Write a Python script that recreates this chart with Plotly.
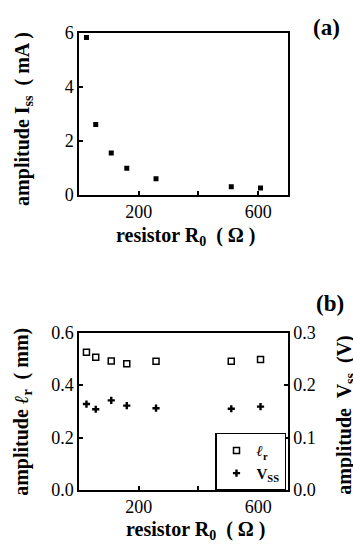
import plotly.graph_objects as go

# Load resistor values (ohm) and measured amplitudes
R0 = [25, 56, 108, 160, 258, 510, 608]
I_ss = [5.84, 2.61, 1.56, 0.99, 0.60, 0.31, 0.26]      # mA
l_r = [0.526, 0.507, 0.492, 0.482, 0.491, 0.491, 0.498]  # mm
V_ss = [0.164, 0.154, 0.171, 0.161, 0.156, 0.155, 0.159]  # V

x_ticks = [200, 400, 600]
x_ticktext = ["200", "", "600"]

W, H = 353, 550
SERIF = "Liberation Serif, Times New Roman, serif"


def px(x):
    return x / W


def py(y):
    return 1 - y / H


fig = go.Figure()

fig.add_trace(go.Scatter(
    x=R0, y=I_ss, mode="markers", xaxis="x", yaxis="y",
    marker=dict(symbol="square", size=5, color="black"),
    showlegend=False,
))
fig.add_trace(go.Scatter(
    x=R0, y=l_r, mode="markers", xaxis="x2", yaxis="y2",
    name="<i>ℓ</i><sub>r</sub>",
    marker=dict(symbol="square-open", size=6, color="black",
                line=dict(width=1.5, color="black")),
))
fig.add_trace(go.Scatter(
    x=R0, y=V_ss, mode="markers", xaxis="x2", yaxis="y3",
    name="V<sub>SS</sub>",
    marker=dict(symbol="cross", size=6, color="black",
                line=dict(width=0)),
))

axis_common = dict(
    showline=True, linecolor="black", linewidth=1.5,
    ticks="inside", ticklen=4, tickwidth=1.5, tickcolor="black",
    showgrid=False, zeroline=False,
    tickfont=dict(family=SERIF, size=18, color="black"),
)

dom_x = [px(79), px(288)]
dom_a = [py(192), py(24)]
dom_b = [py(498), py(335)]

fig.update_layout(
    width=W, height=H,
    margin=dict(l=0, r=0, t=0, b=0),
    font=dict(family=SERIF, color="black"),
    paper_bgcolor="white", plot_bgcolor="white",
    xaxis=dict(domain=dom_x, anchor="y", range=[0, 700], mirror=True,
               tickvals=x_ticks, ticktext=x_ticktext, **axis_common),
    yaxis=dict(domain=dom_a, anchor="x", range=[0, 6], mirror=True,
               tickvals=[0, 2, 4, 6], **axis_common),
    xaxis2=dict(domain=dom_x, anchor="y2", range=[0, 700], mirror=True,
                tickvals=x_ticks, ticktext=x_ticktext, **axis_common),
    yaxis2=dict(domain=dom_b, anchor="x2", range=[0, 0.6],
                tickvals=[0, 0.2, 0.4, 0.6], tickformat=".1f", **axis_common),
    yaxis3=dict(domain=dom_b, anchor="x2", overlaying="y2", side="right",
                range=[0, 0.3], tickvals=[0, 0.1, 0.2, 0.3],
                tickformat=".1f", **axis_common),
    legend=dict(
        x=px(286), y=py(499), xanchor="right", yanchor="bottom",
        bgcolor="white", bordercolor="black", borderwidth=1.5,
        font=dict(family=SERIF, size=15, color="black", weight="bold"),
        itemwidth=30, tracegroupgap=0,
    ),
)

title_font = dict(family=SERIF, size=20, color="black", weight="bold")


def note(text, x, y, angle=0, size=20):
    f = dict(title_font)
    f["size"] = size
    fig.add_annotation(
        text=text, x=px(x), y=py(y), xref="paper", yref="paper",
        xanchor="center", yanchor="middle", showarrow=False,
        textangle=angle, font=f,
    )


note("(a)", 326, 18, size=23)
note("(b)", 330, 305, size=23)
note("resistor R<sub>0</sub>  ( Ω )", 185, 235)
note("resistor R<sub>0</sub>  ( Ω )", 195, 540)
note("amplitude I<sub>ss</sub>  ( mA )", 24, 113, angle=-90)
note("amplitude <i>ℓ</i><sub>r</sub>  ( mm)", 23, 417, angle=-90)
note("amplitude  V<sub>ss</sub>  (V)", 346, 421, angle=-90)

fig.write_html("out.html")
